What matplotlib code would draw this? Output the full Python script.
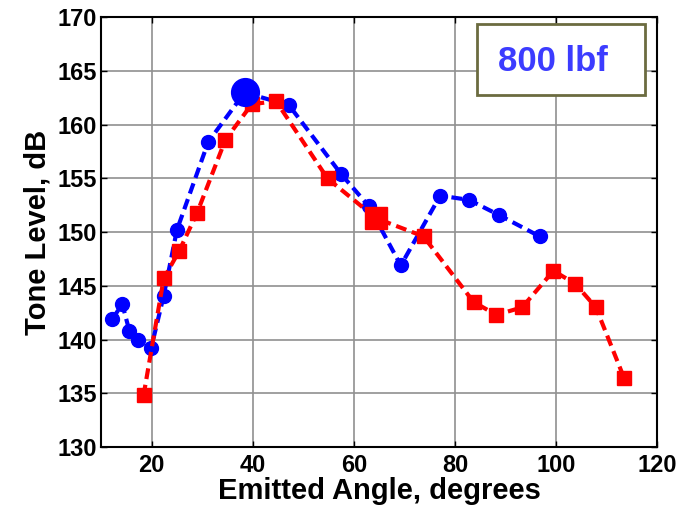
import matplotlib
matplotlib.use("Agg")
import matplotlib.pyplot as plt
from matplotlib.patches import Rectangle

blue_x = [12.2, 14.2, 15.6, 17.4, 19.9, 22.4, 25.0, 31.2, 38.4, 47.2, 57.5, 63.0, 69.3, 77.1, 82.8, 88.7, 96.8]
blue_y = [141.9, 143.3, 140.8, 140.0, 139.2, 144.1, 150.2, 158.4, 163.0, 161.8, 155.4, 152.4, 146.9, 153.4, 153.0, 151.6, 149.6]
red_x = [18.4, 22.4, 25.4, 29.0, 34.6, 39.8, 44.6, 54.8, 64.4, 73.8, 83.7, 88.2, 93.3, 99.5, 103.8, 107.9, 113.5]
red_y = [134.8, 145.7, 148.2, 151.8, 158.6, 161.9, 162.2, 155.0, 151.3, 149.6, 143.5, 142.3, 143.0, 146.4, 145.2, 143.0, 136.4]
blue_big = 8
red_big = 8
label_text = "800 lbf"

plt.rcParams['font.family'] = ['Liberation Sans', 'DejaVu Sans']
fig = plt.figure(figsize=(6.83, 5.08), dpi=100)
ax = fig.add_axes([0.148, 0.120, 0.814, 0.846])

ax.plot(blue_x, blue_y, color='#0000ff', lw=3, ls=(0, (2.6, 1.4)), marker='o', ms=10, zorder=3)
ax.plot(red_x, red_y, color='#ff0000', lw=3, ls=(0, (2.6, 1.4)), marker='s', ms=10, zorder=3)
ax.plot([blue_x[blue_big]], [blue_y[blue_big]], 'o', color='#0000ff', ms=20, zorder=4)
ax.plot([red_x[red_big]], [red_y[red_big]], 's', color='#ff0000', ms=16, zorder=4)

ax.set_xlim(10, 120)
ax.set_ylim(130, 170)
ax.set_xticks([20, 40, 60, 80, 100, 120])
ax.set_yticks(range(130, 171, 5))
ax.grid(True, color='#909090', lw=1.2)
ax.set_axisbelow(True)
ax.tick_params(direction='in', length=4, width=1, top=True, right=True, labelsize=17)
ax.tick_params(axis='y', pad=3)
ax.tick_params(axis='x', pad=5)
for lab in ax.get_xticklabels() + ax.get_yticklabels():
    lab.set_fontweight('bold')
for s in ax.spines.values():
    s.set_linewidth(1.5)

ax.set_xlabel('Emitted Angle, degrees', fontsize=21, fontweight='bold', labelpad=0)
ax.set_ylabel('Tone Level, dB', fontsize=21, fontweight='bold', labelpad=4)

ax.add_patch(Rectangle((0.676, 0.819), 0.302, 0.165, transform=ax.transAxes,
                       facecolor='white', edgecolor='#6b6b40', lw=2, zorder=5))
ax.text(0.813, 0.897, label_text, transform=ax.transAxes, ha='center', va='center',
        fontsize=25, fontweight='bold', color='#3c3cff', zorder=6)

fig.savefig('out.png', dpi=100)
